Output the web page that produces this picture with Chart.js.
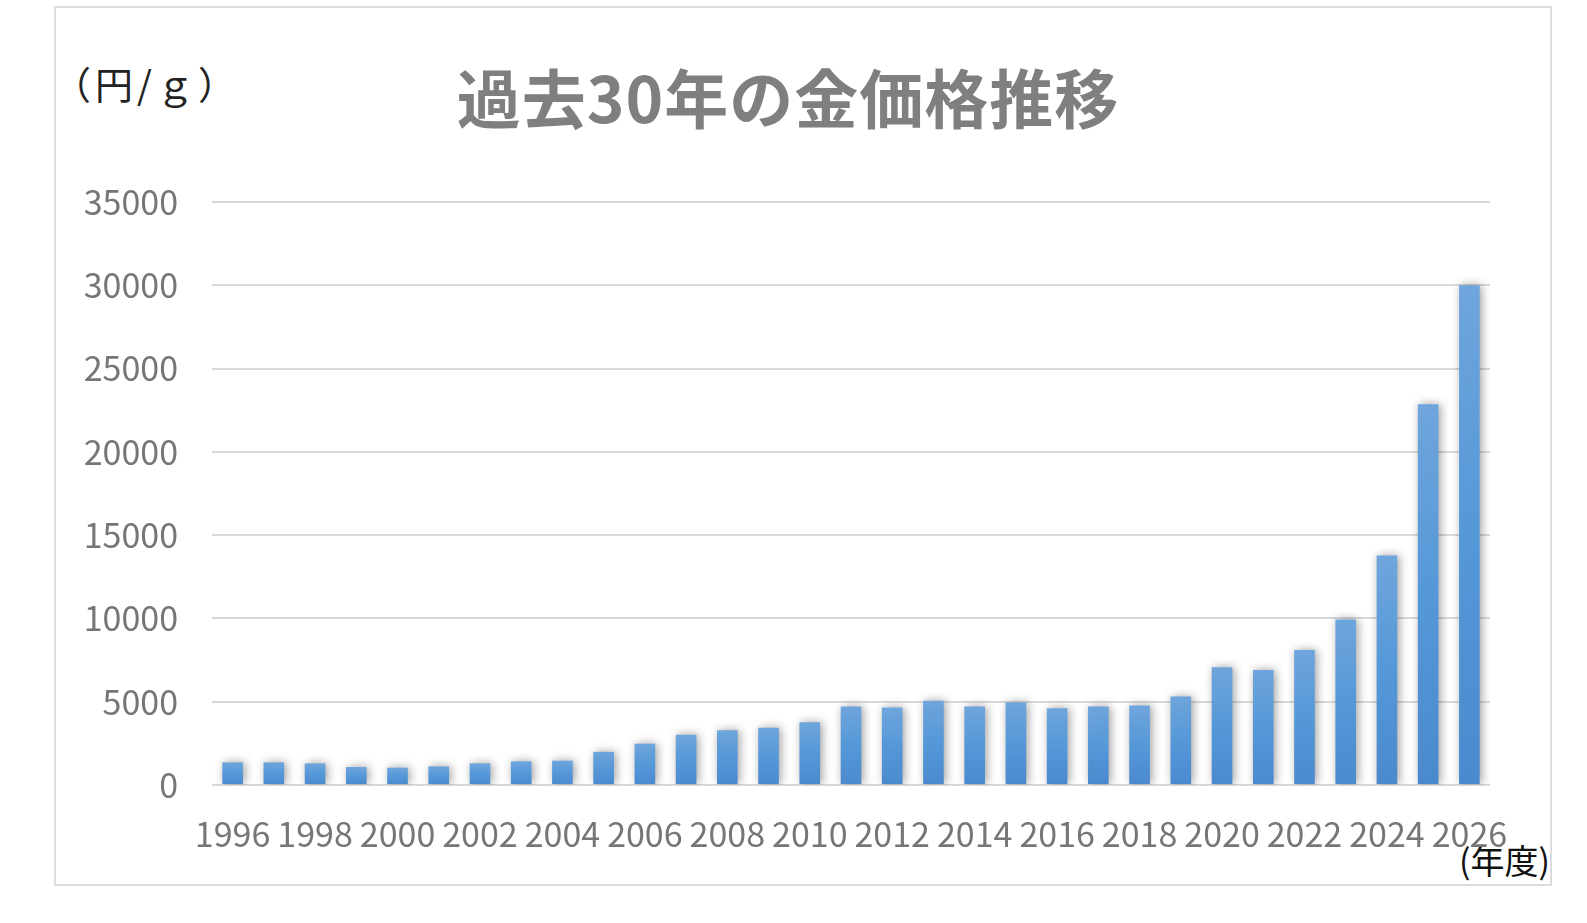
<!DOCTYPE html>
<html lang="ja">
<head>
<meta charset="utf-8">
<title>過去30年の金価格推移</title>
<script src="https://cdn.jsdelivr.net/npm/chart.js@4.4.1/dist/chart.umd.min.js"></script>
<style>
  html, body { margin: 0; padding: 0; background: #fff; }
  #wrap { position: relative; width: 1587px; height: 923px; overflow: hidden; }
  #frame { position: absolute; left: 54px; top: 6px; width: 1494px; height: 876px; border: 2px solid #dcdcdc; }
  #chart-title {
    position: absolute; left: 0; width: 1576px; top: 58px; text-align: center;
    font-family: "Noto Sans CJK JP", sans-serif; font-weight: 700; font-size: 64px;
    line-height: 74px; color: #7f7f7f; letter-spacing: 1px;
  }
  #unit-y {
    position: absolute; left: 53px; top: 61px; letter-spacing: 4px;
    font-family: "Noto Sans CJK JP", serif; font-size: 38px; line-height: 44px; color: #222;
  }
  #unit-x {
    position: absolute; left: 1459px; top: 840px;
    font-family: "Noto Sans CJK JP", sans-serif; font-size: 34px; line-height: 40px; color: #111;
  }
  canvas { position: absolute; left: 0; top: 0; }
</style>
</head>
<body>
<div id="wrap">
  <div id="frame"></div>
  <div id="chart-title">過去30年の金価格推移</div>
  <div id="unit-y">（円/ｇ）</div>
  <div id="unit-x">(年度)</div>
  <canvas id="gold-chart" width="1587" height="923"></canvas>
</div>
<script>
// === データ（円/g） ===
const YEARS = ['1996','1997','1998','1999','2000','2001','2002','2003','2004','2005',
               '2006','2007','2008','2009','2010','2011','2012','2013','2014','2015',
               '2016','2017','2018','2019','2020','2021','2022','2023','2024','2025','2026'];
const PRICES = [1360, 1360, 1300, 1080, 1040, 1120, 1300, 1420, 1460, 1990,
                2480, 3010, 3290, 3440, 3760, 4710, 4650, 5060, 4710, 4960,
                4610, 4710, 4780, 5320, 7070, 6900, 8110, 9940, 13780, 22860, 30000];
const Y_TICKS = [0, 5000, 10000, 15000, 20000, 25000, 30000, 35000];

const TICK_FONT = { family: '"Noto Sans CJK JP", "Noto Sans", sans-serif', size: 34 };
const TICK_COLOR = '#767676';

// 棒のグラデーション（上が明るい）
function barFill(ctx) {
  const chart = ctx.chart;
  const area = chart.chartArea;
  if (!area || ctx.type !== 'data') return '#5b9bd5';
  const y = chart.scales.y;
  const top = y.getPixelForValue(ctx.parsed.y);
  const base = y.getPixelForValue(0);
  const g = chart.ctx.createLinearGradient(0, top, 0, base);
  g.addColorStop(0, '#6fa5dc');
  g.addColorStop(0.5, '#5598d8');
  g.addColorStop(1, '#4a89cd');
  return g;
}

// 棒の影
const barShadow = {
  id: 'barShadow',
  beforeDatasetDraw(chart) {
    const c = chart.ctx;
    c.save();
    c.shadowColor = 'rgba(0,0,0,0.38)';
    c.shadowBlur = 10;
    c.shadowOffsetX = 2;
    c.shadowOffsetY = 0;
  },
  afterDatasetDraw(chart) {
    chart.ctx.restore();
  }
};

const chart = new Chart(document.getElementById('gold-chart'), {
  type: 'bar',
  data: {
    labels: YEARS,
    datasets: [{
      label: '金価格 (円/g)',
      data: PRICES,
      backgroundColor: barFill,
      borderWidth: 0,
      barPercentage: 0.5,
      categoryPercentage: 1.0
    }]
  },
  options: {
    responsive: false,
    animation: false,
    layout: { padding: { left: 0, right: 97, top: 202, bottom: 68 } },
    plugins: {
      legend: { display: false },
      title: { display: false },
      tooltip: { enabled: false }
    },
    scales: {
      x: {
        grid: { display: false },
        border: { display: false },
        ticks: {
          autoSkip: false,
          maxRotation: 0,
          minRotation: 0,
          padding: 21,
          color: TICK_COLOR,
          font: TICK_FONT,
          callback: (v, i) => (i % 2 === 0 ? YEARS[i] : '')
        },
        afterFit: s => { s.height = 70; }
      },
      y: {
        min: 0,
        max: 35000,
        grid: { color: '#d9d9d9', lineWidth: 2, drawTicks: false },
        border: { display: false },
        afterBuildTicks: s => { s.ticks = Y_TICKS.map(v => ({ value: v })); },
        ticks: {
          padding: 34,
          color: TICK_COLOR,
          font: TICK_FONT,
          callback: v => String(v)
        },
        afterFit: s => { s.width = 212; }
      }
    }
  },
  plugins: [barShadow]
});
</script>
</body>
</html>
